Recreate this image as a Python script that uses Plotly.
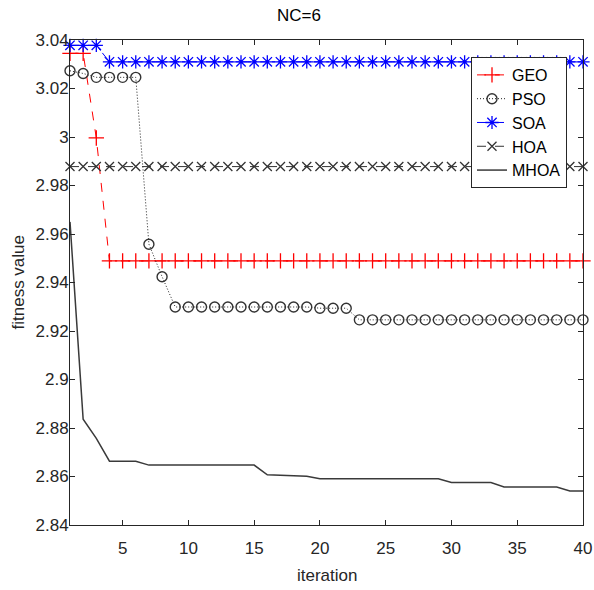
import plotly.graph_objects as go

iterations = list(range(1, 41))

geo = [3.0345, 3.0345, 2.9996] + [2.9489] * 37
pso = ([3.0273, 3.0262, 3.0246, 3.0246, 3.0246, 3.0246, 2.9558, 2.9424]
       + [2.9299] * 11 + [2.9294] * 3 + [2.9246] * 18)
soa = [3.0378] * 3 + [3.0310] * 37
hoa = [2.9878] * 40
mhoa = ([2.9650, 2.8836, 2.8757, 2.8663, 2.8663, 2.8663]
        + [2.8647] * 9 + [2.8607, 2.8606, 2.8605, 2.8601]
        + [2.8591] * 10 + [2.8575] * 4 + [2.8557] * 5 + [2.8540] * 2)

x_ticks = [5, 10, 15, 20, 25, 30, 35, 40]
y_ticks = [2.84, 2.86, 2.88, 2.90, 2.92, 2.94, 2.96, 2.98, 3.00, 3.02, 3.04]
y_tick_text = ["2.84", "2.86", "2.88", "2.9", "2.92", "2.94", "2.96", "2.98", "3", "3.02", "3.04"]

FONT = "Liberation Sans, Arial, sans-serif"
AXIS_COLOR = "#262626"

W, H = 594, 590
ML, MR, MT, MB = 70, 11, 40, 65
PLOT_W = W - ML - MR
PLOT_H = H - MT - MB

fig = go.Figure()

fig.add_trace(go.Scatter(
    x=iterations, y=geo, name="GEO", mode="lines+markers",
    line=dict(color="#ff0000", width=1, dash="dash"),
    marker=dict(symbol="cross-thin-open", size=11, line=dict(color="#ff0000", width=1.3)),
    cliponaxis=False,
))
fig.add_trace(go.Scatter(
    x=iterations, y=pso, name="PSO", mode="lines+markers",
    line=dict(color="#222222", width=1, dash="1px,2px"),
    marker=dict(symbol="circle-open", size=10, color="#333333", line=dict(color="#333333", width=1.4)),
    cliponaxis=False,
))
fig.add_trace(go.Scatter(
    x=iterations, y=soa, name="SOA", mode="lines+markers",
    line=dict(color="#0000ff", width=1, dash="dashdot"),
    marker=dict(symbol="asterisk-open", size=11, line=dict(color="#0000ff", width=1.3)),
    cliponaxis=False,
))
fig.add_trace(go.Scatter(
    x=iterations, y=hoa, name="HOA", mode="lines+markers",
    line=dict(color="#333333", width=1, dash="dash"),
    marker=dict(symbol="x-thin-open", size=9, line=dict(color="#333333", width=1.3)),
    cliponaxis=False,
))
fig.add_trace(go.Scatter(
    x=iterations, y=mhoa, name="MHOA", mode="lines",
    line=dict(color="#3a3a3a", width=1.5),
    cliponaxis=False,
))

fig.update_layout(
    width=W, height=H,
    margin=dict(l=ML, r=MR, t=MT, b=MB),
    paper_bgcolor="white", plot_bgcolor="white",
    font=dict(family=FONT, size=17, color=AXIS_COLOR),
    title=dict(text="NC=6", x=299 / W, xref="container", xanchor="center",
               y=1 - 15 / H, yanchor="middle",
               font=dict(family=FONT, size=17, color="#000000")),
    showlegend=True,
    legend=dict(
        x=(567 - ML) / PLOT_W, y=0.965, xanchor="right", yanchor="top",
        bgcolor="white", bordercolor="#262626", borderwidth=1,
        font=dict(family=FONT, size=16, color="#000000"),
        tracegroupgap=0,
    ),
    xaxis=dict(
        range=[1, 40], tickvals=x_ticks, ticks="inside", ticklen=5,
        tickcolor=AXIS_COLOR, showline=True, linecolor=AXIS_COLOR, linewidth=1,
        mirror="ticks", showgrid=False, zeroline=False, ticklabelstandoff=8,
        automargin=False,
        tickfont=dict(family=FONT, size=17, color=AXIS_COLOR),
    ),
    yaxis=dict(
        range=[2.84, 3.04], tickvals=y_ticks, ticktext=y_tick_text,
        ticks="inside", ticklen=5, tickcolor=AXIS_COLOR,
        showline=True, linecolor=AXIS_COLOR, linewidth=1,
        mirror="ticks", showgrid=False, zeroline=False, ticklabelstandoff=-3,
        automargin=False,
        tickfont=dict(family=FONT, size=17, color=AXIS_COLOR),
    ),
    annotations=[
        dict(text="iteration", xref="paper", yref="paper",
             x=0.5, y=-(575 - (MT + PLOT_H)) / PLOT_H,
             xanchor="center", yanchor="middle", showarrow=False,
             font=dict(family=FONT, size=17, color=AXIS_COLOR)),
        dict(text="fitness value", xref="paper", yref="paper",
             x=-(ML - 18) / PLOT_W, y=0.5, textangle=-90,
             xanchor="center", yanchor="middle", showarrow=False,
             font=dict(family=FONT, size=17, color=AXIS_COLOR)),
    ],
)

fig.write_html("out.html")
